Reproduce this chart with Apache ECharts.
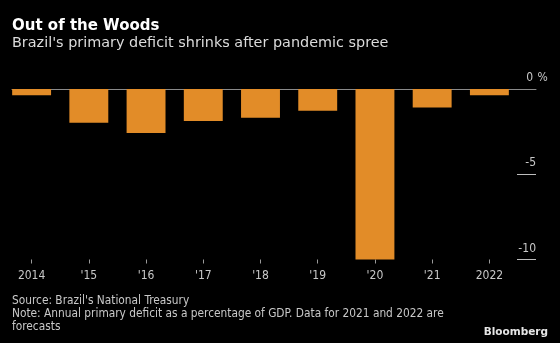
<!DOCTYPE html>
<html>
<head>
<meta charset="utf-8">
<script src="https://cdn.jsdelivr.net/npm/echarts@6/dist/echarts.min.js"></script>
<style>
  html, body { margin: 0; padding: 0; background: #000; }
  #chart { width: 560px; height: 343px; }
</style>
</head>
<body>
<div id="chart"></div>
<script>
// Brazil primary balance, % of GDP (2021 and 2022 are forecasts)
const years = ['2014', "'15", "'16", "'17", "'18", "'19", "'20", "'21", '2022'];
const primaryBalance = [-0.37, -1.98, -2.58, -1.88, -1.69, -1.27, -10.0, -1.08, -0.37];

const FONT = '"DejaVu Sans Condensed", "Liberation Sans Narrow", "DejaVu Sans", sans-serif';
const BAR = '#e28c28';
const TEXT = '#c8c8c8';

const chart = echarts.init(document.getElementById('chart'), null, { renderer: 'canvas' });

chart.setOption({
  backgroundColor: '#000',
  animation: false,
  title: [
    {
      text: 'Out of the Woods',
      left: 12, top: 19, padding: 0,
      textStyle: { color: '#fff', fontFamily: '"DejaVu Sans", sans-serif', fontWeight: 'bold', fontSize: 15 }
    },
    {
      text: "Brazil's primary deficit shrinks after pandemic spree",
      left: 12, top: 36.5, padding: 0,
      textStyle: { color: '#dcdcdc', fontFamily: '"DejaVu Sans", sans-serif', fontWeight: 'normal', fontSize: 14.4 }
    },
    {
      text: "Source: Brazil's National Treasury\nNote: Annual primary deficit as a percentage of GDP. Data for 2021 and 2022 are\nforecasts",
      left: 12, top: 294, padding: 0,
      textStyle: { color: TEXT, fontFamily: FONT, fontWeight: 'normal', fontSize: 11.8, lineHeight: 13 }
    },
    {
      text: 'Bloomberg',
      right: 12, top: 327, padding: 0,
      textStyle: { color: '#e6e6e6', fontFamily: '"DejaVu Sans", sans-serif', fontWeight: 'bold', fontSize: 10.5 }
    }
  ],
  grid: [
    // bars
    { left: 3, right: 42, top: 89, bottom: 83.5 },
    // zero line
    { left: 12, right: 24, top: 89, bottom: 83.5 },
    // value labels with their short underlines
    { left: 517, right: 24, top: 89, bottom: 83.5 }
  ],
  xAxis: [
    {
      type: 'category', gridIndex: 0, data: years,
      position: 'bottom',
      axisLine: { show: false, onZero: false },
      axisTick: { show: true, alignWithLabel: true, length: 4, lineStyle: { color: '#9a9a9a' } },
      axisLabel: { color: TEXT, fontFamily: FONT, fontSize: 12, margin: 10 },
      splitLine: { show: false }
    },
    {
      type: 'value', gridIndex: 1, min: 0, max: 1,
      axisLine: { show: true, onZero: true, lineStyle: { color: '#8a8a8a', width: 1 } },
      axisTick: { show: false },
      axisLabel: { show: false },
      splitLine: { show: false }
    },
    {
      type: 'value', gridIndex: 2, min: 0, max: 1, show: false
    }
  ],
  yAxis: [
    {
      type: 'value', gridIndex: 0, min: -10, max: 0,
      show: false
    },
    {
      type: 'value', gridIndex: 1, min: -10, max: 0,
      show: false
    },
    {
      type: 'value', gridIndex: 2, min: -10, max: 0, interval: 5,
      position: 'right',
      axisLine: { show: false },
      axisTick: { show: false },
      splitLine: { show: true, lineStyle: { color: '#bdbdbd', width: 1 } },
      axisLabel: {
        inside: true,
        margin: -13,
        verticalAlign: 'bottom',
        padding: [0, 0, 5, 0],
        color: TEXT, fontFamily: FONT, fontSize: 12,
        formatter: v => v === 0 ? '{n|0}{z| %}' : '{n|' + v + '}{u| }',
        rich: {
          n: { color: TEXT, fontFamily: FONT, fontSize: 12 },
          z: { color: TEXT, fontFamily: FONT, fontSize: 12, width: 16, align: 'left' },
          u: { color: TEXT, fontFamily: FONT, fontSize: 12, width: 13 }
        }
      }
    }
  ],
  series: [
    {
      type: 'bar', xAxisIndex: 0, yAxisIndex: 0,
      data: primaryBalance,
      barCategoryGap: '32%',
      itemStyle: { color: BAR },
      z: 5
    }
  ]
});
</script>
</body>
</html>
